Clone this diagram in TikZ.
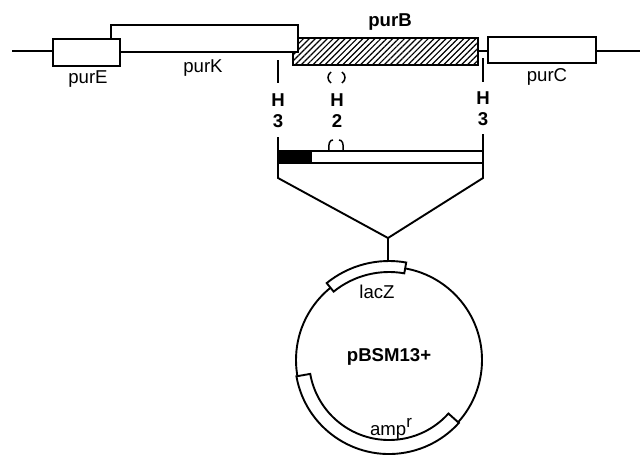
\documentclass[tikz,border=0pt]{standalone}
\usepackage{fontspec}
\setmainfont{Liberation Sans}
\usetikzlibrary{patterns.meta,calc}
\begin{document}
\begin{tikzpicture}[x=0.5pt,y=-0.5pt,
  ln/.style={line width=0.95pt},
  genebox/.style={ln,draw,fill=white},
  hatch/.style={pattern={Lines[angle=45,distance=2.1pt,line width=0.6pt]}},
  lab/.style={font=\fontsize{9.3}{11}\selectfont,inner sep=0pt},
  blab/.style={font=\fontsize{9.3}{11}\selectfont\bfseries,inner sep=0pt},
  hlab/.style={font=\fontsize{9.3}{11}\selectfont\bfseries,inner sep=0pt}]
\useasboundingbox (0,0) rectangle (640,455);
% chromosome line
\coordinate (L0) at (12,51);
\coordinate (L1) at (640,51);
\draw[line width=1.1pt] (L0) -- (L1);
% genes
\fill[white] (293,38) rectangle (478,65);
\draw[ln,hatch] (293,38) rectangle (478,65);
\draw[genebox] (111,25) rectangle (298,52);
\draw[genebox] (53,39) rectangle (120,66);
\draw[genebox] (488,37) rectangle (596,63);
\node[lab] (purE) at (88,79) {purE};
\node[lab] (purK) at (203,68) {purK};
\node[blab] (purB) at (390,22) {purB};
\node[lab] (purC) at (547,77) {purC};
% restriction sites
\draw[ln] (278,60) -- (278,83);
\draw[ln] (483,58) -- (483,82);
\draw[line width=0.75pt] (331,72) .. controls (327,75) and (327,80) .. (331,83);
\draw[line width=0.75pt] (342,72) .. controls (346,75) and (346,80) .. (342,83);
\node[hlab] (h1) at (278,100) {H};
\node[hlab] (n1) at (278,121) {3};
\node[hlab] (h2) at (337,100) {H};
\node[hlab] (n2) at (337,121) {2};
\node[hlab] (h3) at (483,98) {H};
\node[hlab] (n3) at (483,119) {3};
% cloned fragment
\draw[ln] (278,151) rectangle (483,163);
\fill (278,151) rectangle (312,163);
\draw[line width=0.75pt] (329,151) .. controls (328,143) and (330,140) .. (333,140);
\draw[line width=0.75pt] (343,151) .. controls (344,143) and (342,140) .. (339,140);
\coordinate (fl) at (278,178);
\coordinate (fr) at (483,178);
\coordinate (apex) at (388,238);
\coordinate (ztop) at (388,261);
\draw[ln] (278,137) -- (fl) -- (apex) -- (fr) -- (483,134);
\draw[ln] (apex) -- (ztop);
% plasmid
\coordinate (c) at (389,360);
\draw[ln] (c) circle[radius=93];
\draw[genebox] ($(c)+(-129:88)$) arc[start angle=-129,end angle=-80,radius=88]
  -- ($(c)+(-80:99)$) arc[start angle=-80,end angle=-129,radius=99] -- cycle;
\draw[genebox] ($(c)+(42:80)$) arc[start angle=42,end angle=170,radius=80]
  -- ($(c)+(170:94)$) arc[start angle=170,end angle=42,radius=94] -- cycle;
\node[lab] (lacZ) at (377,292) {lacZ};
\node[blab] (pbsm) at (389,357) {pBSM13+};
\node[lab] (amp) at (391,429) {amp\raisebox{0.8ex}{\fontsize{8.5}{9}\selectfont r}};
\end{tikzpicture}
\end{document}
